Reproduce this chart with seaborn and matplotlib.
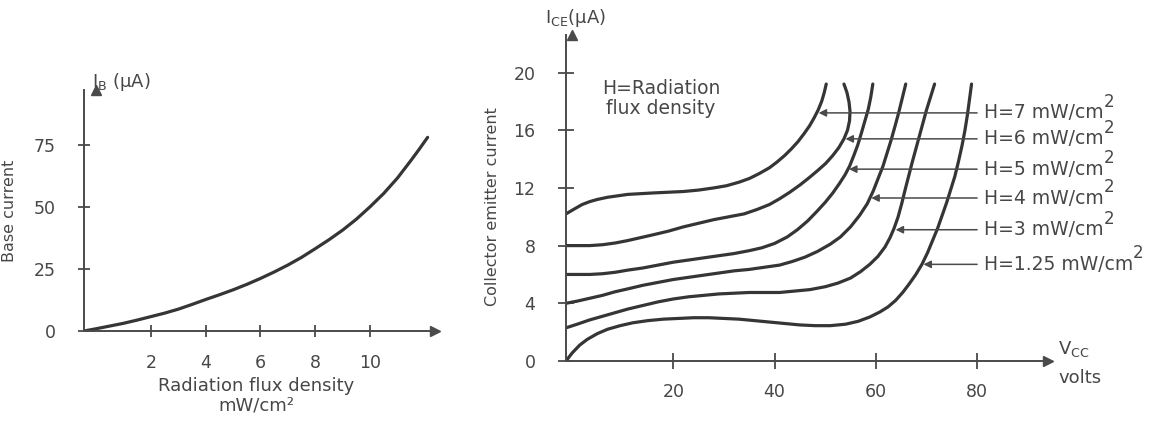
import numpy as np
import pandas as pd
import seaborn as sns
import matplotlib
matplotlib.use("Agg")
import matplotlib.pyplot as plt

# left panel: base current vs radiation flux density
flux = [-0.44, 0, 0.5, 1.0, 1.5, 2.0, 2.5, 3.0, 3.5, 4.0, 4.5, 5.0, 5.5, 6.0, 6.5,
        7.0, 7.5, 8.0, 8.5, 9.0, 9.5, 10.0, 10.5, 11.0, 11.5, 11.8, 12.1]
base_current = [0, 0.9, 2.0, 3.1, 4.4, 5.8, 7.2, 8.8, 10.7, 12.7, 14.6, 16.6, 18.8, 21.2, 23.8,
                26.6, 29.7, 33.2, 36.8, 40.7, 45.1, 50.1, 55.5, 61.7, 68.9, 73.4, 78.1]
left_xticks = [2, 4, 6, 8, 10]
left_yticks = [0, 25, 50, 75]

# right panel: collector emitter current vs VCC for each H
h_labels = ["H=7 mW/cm", "H=6 mW/cm", "H=5 mW/cm", "H=4 mW/cm", "H=3 mW/cm", "H=1.25 mW/cm"]

vcc_h7 = [-1.2, 0.5, 2, 3.5, 5, 7, 9, 11, 13.5, 16, 19, 22, 25, 28, 30.5, 33, 35, 37, 39,
          40.5, 42, 43.3, 44.6, 45.8, 46.9, 47.8, 48.6, 49.3, 49.8, 50.2]
ice_h7 = [10.2, 10.55, 10.85, 11.05, 11.2, 11.35, 11.45, 11.55, 11.6, 11.65, 11.7, 11.75, 11.85,
          12.0, 12.15, 12.4, 12.65, 13.0, 13.4, 13.8, 14.25, 14.7, 15.2, 15.75, 16.3, 16.85,
          17.4, 18.0, 18.6, 19.2]

vcc_h6 = [-1.2, 1, 3.5, 6, 8.5, 11, 13.5, 16, 19, 22, 25, 28, 31, 34, 36.5, 39, 41, 43, 45,
          46.8, 48.5, 50.1, 51.5, 52.7, 53.7, 54.4, 54.8, 54.9, 54.7, 54.3, 53.7]
ice_h6 = [8.0, 8.0, 8.0, 8.06, 8.18, 8.35, 8.55, 8.75, 9.0, 9.3, 9.55, 9.8, 10.0, 10.2, 10.5,
          10.85, 11.25, 11.7, 12.2, 12.7, 13.2, 13.7, 14.25, 14.8, 15.4, 16.0, 16.65, 17.3,
          17.95, 18.6, 19.2]

vcc_h5 = [-1.2, 1, 3.5, 6, 8.5, 11, 14, 17, 20, 23, 26, 29, 32, 35, 37.5, 40, 42.5, 44.5,
          46.5, 48.3, 50.0, 51.5, 52.8, 53.9, 54.8, 55.6, 56.4, 57.1, 57.8, 58.5, 59.0, 59.4]
ice_h5 = [6.0, 6.0, 6.0, 6.05, 6.15, 6.3, 6.45, 6.65, 6.85, 7.0, 7.15, 7.3, 7.45, 7.65, 7.85,
          8.15, 8.6, 9.1, 9.7, 10.35, 11.0, 11.65, 12.3, 12.9, 13.5, 14.2, 14.95, 15.75, 16.6,
          17.45, 18.3, 19.2]

vcc_h4 = [-1.2, 1, 3.5, 6, 8.5, 11, 14, 17, 20, 23, 26, 29, 32, 35, 38, 41, 43.5, 46, 48.5,
          51, 53, 55, 56.8, 58.3, 59.5, 60.5, 61.4, 62.2, 63.0, 63.8, 64.5, 65.2, 65.9]
ice_h4 = [4.0, 4.15, 4.35, 4.55, 4.8, 5.0, 5.25, 5.45, 5.65, 5.8, 5.95, 6.1, 6.25, 6.35, 6.5,
          6.65, 6.9, 7.2, 7.6, 8.1, 8.6, 9.3, 10.1, 10.9, 11.8, 12.7, 13.5, 14.4, 15.3, 16.3,
          17.2, 18.2, 19.2]

vcc_h3 = [-1.2, 1, 3.5, 6, 8.5, 11, 14, 17, 20, 23, 26, 29, 32, 35, 38, 41, 44, 47, 50, 52.5,
          55, 57, 58.8, 60.4, 61.8, 62.8, 63.6, 64.4, 65.1, 65.8, 66.5, 67.2, 67.9, 68.6, 69.3,
          70.0, 70.8, 71.6]
ice_h3 = [2.3, 2.55, 2.85, 3.1, 3.35, 3.6, 3.85, 4.1, 4.3, 4.45, 4.55, 4.65, 4.7, 4.75, 4.75,
          4.75, 4.85, 4.95, 5.15, 5.4, 5.75, 6.2, 6.7, 7.25, 7.9, 8.55, 9.2, 10.0, 10.9, 11.9,
          12.85, 13.8, 14.7, 15.6, 16.5, 17.4, 18.3, 19.2]

vcc_h125 = [-1.2, 0, 1.5, 3, 5, 7, 9.5, 12, 15, 18, 21, 24, 27, 30, 33, 36, 39, 42, 45, 48,
            51, 54, 56.5, 58.8, 60.8, 62.4, 63.9, 65.3, 66.6, 67.9, 69.1, 70.2, 71.2, 72.2,
            73.1, 74.0, 74.8, 75.6, 76.3, 77.0, 77.6, 78.1, 78.5, 78.9]
ice_h125 = [0, 0.55, 1.1, 1.5, 1.9, 2.2, 2.45, 2.65, 2.8, 2.9, 2.95, 3.0, 3.0, 2.95, 2.9, 2.8,
            2.7, 2.6, 2.5, 2.45, 2.45, 2.55, 2.75, 3.05, 3.4, 3.75, 4.2, 4.75, 5.35, 6.0, 6.7,
            7.5, 8.35, 9.2, 10.1, 11.0, 11.9, 12.8, 13.8, 14.9, 16.0, 17.1, 18.15, 19.2]

# where each label arrow touches its curve
arrow_tip_x = [48.7, 54.0, 54.7, 59.1, 63.9, 69.4]
arrow_y = [17.2, 15.4, 13.3, 11.3, 9.1, 6.7]
right_xticks = [20, 40, 60, 80]
right_yticks = [0, 4, 8, 12, 16, 20]

sns.set_style("white")
plt.rcParams['font.family'] = ['DejaVu Sans']

curve_col = '#353535'
axis_col = '#4a4a4a'
text_col = '#474747'

fig = plt.figure(figsize=(11.54, 4.23), dpi=100)
ax1 = fig.add_axes([84/1154, 1-331/423, (435-84)/1154, (331-90)/423])
ax2 = fig.add_axes([566/1154, 1-361/423, (1048-566)/1154, (361-35)/423])

for ax in (ax1, ax2):
    sns.despine(ax=ax)
    for s in ("left", "bottom"):
        ax.spines[s].set_color(axis_col)
        ax.spines[s].set_linewidth(1.4)
    ax.set_facecolor("white")
    # arrow heads at the end of each axis
    ax.plot(1, 0, ">", color=axis_col, markersize=7, transform=ax.get_yaxis_transform(), clip_on=False)
    ax.plot(0, 1, "^", color=axis_col, markersize=7, transform=ax.get_xaxis_transform(), clip_on=False)

line_kw = dict(color=curve_col, lw=2.3, sort=False, estimator=None,
               solid_joinstyle='round', solid_capstyle='round')

# ---- left panel
sns.lineplot(x=flux, y=base_current, ax=ax1, **line_kw)
ax1.set_xlim(-0.44, 12.37)
ax1.set_ylim(0, 97.2)
ax1.set_xticks(left_xticks)
ax1.set_yticks(left_yticks)
ax1.tick_params(axis='both', direction='inout', length=9, width=1.3, color=axis_col,
                labelsize=12.5, labelcolor=text_col, bottom=True, left=True)
ax1.tick_params(axis='y', pad=16)
ax1.tick_params(axis='x', pad=12)
ax1.set_ylabel("Base current", fontsize=11.5, color=text_col)
ax1.yaxis.set_label_coords(-0.19, 0.5)
ax1.set_xlabel("Radiation flux density\nmW/cm\u00b2", fontsize=13, color=text_col, linespacing=1.15)
ax1.xaxis.set_label_coords(0.49, -0.19)
ax1.text(-0.15, 100.6, "I$_\\mathregular{B}$ (\u00b5A)", fontsize=13, color=text_col,
         ha='left', va='center', clip_on=False)

# ---- right panel
curves = [(vcc_h7, ice_h7), (vcc_h6, ice_h6), (vcc_h5, ice_h5),
          (vcc_h4, ice_h4), (vcc_h3, ice_h3), (vcc_h125, ice_h125)]
for xs, ys in curves:
    sns.lineplot(x=xs, y=ys, ax=ax2, **line_kw)

ax2.set_xlim(-1.2, 94)
ax2.set_ylim(0, 22.6)
ax2.set_xticks(right_xticks)
ax2.set_yticks(right_yticks)
ax2.tick_params(axis='both', direction='inout', length=12, width=1.3, color=axis_col,
                labelsize=12.5, labelcolor=text_col, bottom=True, left=True)
ax2.tick_params(axis='y', pad=16)
ax2.tick_params(axis='x', pad=10)
ax2.set_ylabel("Collector emitter current", fontsize=11.5, color=text_col)
ax2.yaxis.set_label_coords(-0.137, 0.475)

for lab, tip, y in zip(h_labels, arrow_tip_x, arrow_y):
    ax2.annotate("", xy=(tip, y), xytext=(80.0, y),
                 arrowprops=dict(arrowstyle="-|>", color=axis_col, lw=1.1, mutation_scale=11,
                                 shrinkA=0, shrinkB=0))
    t = ax2.text(81.3, y, lab, fontsize=13.5, color=text_col, ha='left', va='center', clip_on=False)
    ax2.annotate("2", xy=(1.0, 1.0), xycoords=t, xytext=(0, 1), textcoords='offset points',
                 fontsize=12, color=text_col, ha='left', va='center', annotation_clip=False)

ax2.text(5.9, 18.2, "H=Radiation\nflux density", fontsize=13.5, color=text_col,
         ha='left', va='center', multialignment='center', linespacing=1.05)
ax2.text(-5.3, 23.8, "I$_\\mathregular{CE}$(\u00b5A)", fontsize=13, color=text_col,
         ha='left', va='center', clip_on=False)
ax2.text(96.0, 0.8, r"V$_\mathregular{CC}$", fontsize=13, color=text_col,
         ha='left', va='center', clip_on=False)
ax2.text(96.0, -1.2, "volts", fontsize=13, color=text_col, ha='left', va='center', clip_on=False)

fig.savefig("out.png", dpi=100, facecolor="white")
